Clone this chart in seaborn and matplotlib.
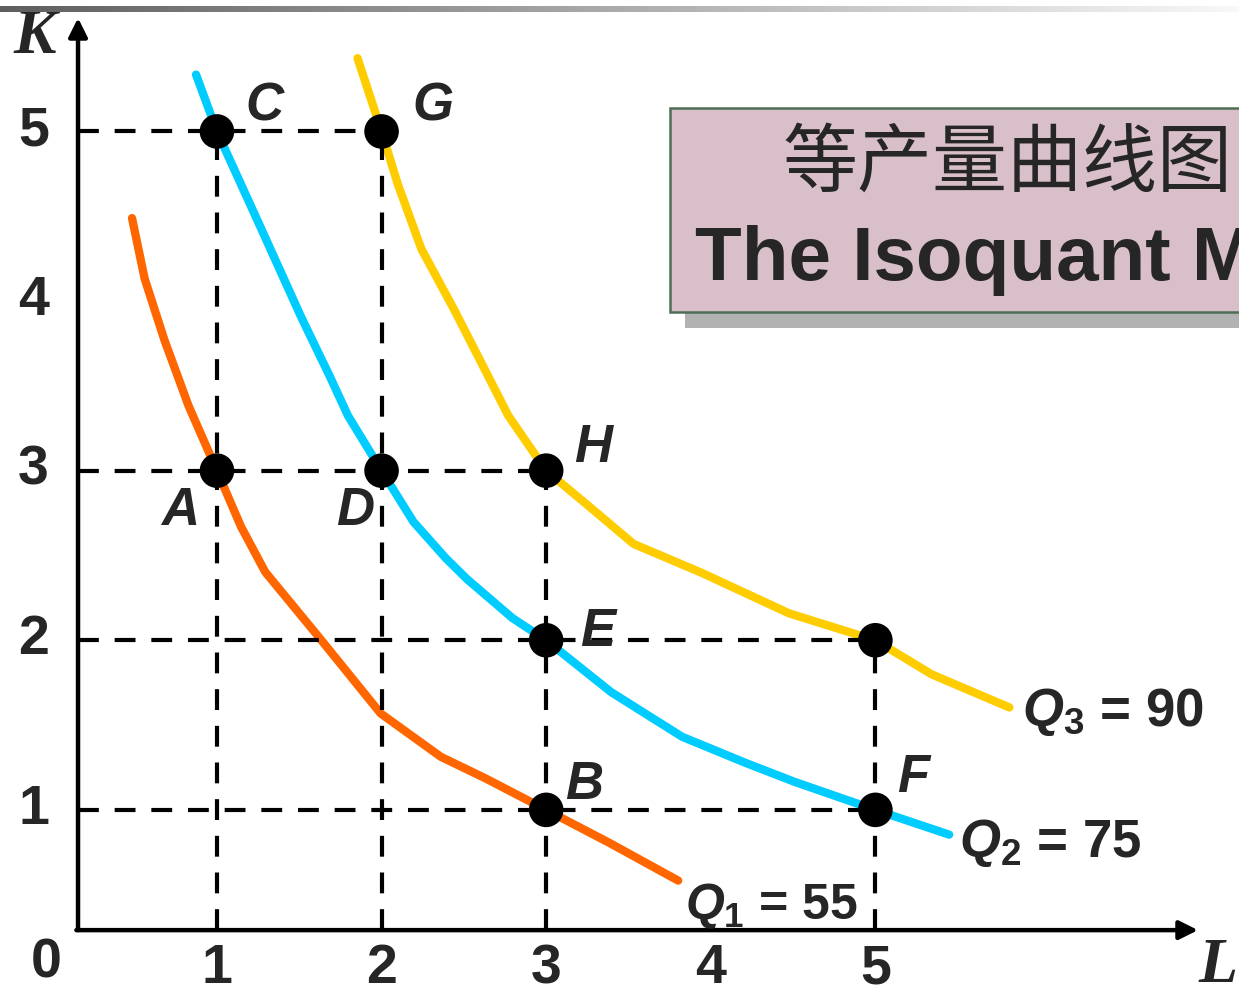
import numpy as np
import pandas as pd
import matplotlib
matplotlib.use('Agg')
import matplotlib.pyplot as plt
import matplotlib.patches as mpatches
import seaborn as sns

# 等产量曲线数据 (L, K)
q1_L = [0.484, 0.561, 0.682, 0.828, 1.0, 1.146, 1.293, 1.611, 1.994, 2.360, 2.627, 3.0, 3.383, 3.802]
q1_K = [4.489, 4.131, 3.767, 3.381, 3.0, 2.670, 2.403, 2.028, 1.569, 1.313, 1.188, 1.0, 0.806, 0.583]

q2_L = [0.873, 1.0, 1.293, 1.510, 1.688, 1.796, 2.0, 2.193, 2.391, 2.522, 2.795, 3.0, 3.395, 3.826, 4.209, 4.504, 5.0, 5.448]
q2_K = [5.335, 5.0, 4.375, 3.909, 3.551, 3.324, 3.0, 2.699, 2.483, 2.358, 2.131, 2.0, 1.694, 1.431, 1.278, 1.167, 1.0, 0.854]

q3_L = [1.854, 2.0, 2.099, 2.242, 2.441, 2.615, 2.770, 3.0, 3.254, 3.531, 3.944, 4.475, 5.0, 5.342, 5.596, 5.814]
q3_K = [5.432, 5.0, 4.688, 4.307, 3.949, 3.619, 3.324, 3.0, 2.795, 2.568, 2.398, 2.159, 2.0, 1.799, 1.694, 1.604]

q_labels = [r'$Q_{\mathit{1}}$ = 55', r'$Q_{\mathit{2}}$ = 75', r'$Q_{\mathit{3}}$ = 90']
q_colors = ['#FF6600', '#00CCFF', '#FFCC00']

# 标记点
pt_names = ['A', 'B', 'C', 'D', 'E', 'F', 'G', 'H', '']
pt_L = [1, 3, 1, 2, 3, 5, 2, 3, 5]
pt_K = [3, 1, 5, 3, 2, 1, 5, 3, 2]

# 虚线
h_levels = [5, 3, 2, 1]
h_ends = [2, 3, 5, 5]
v_levels = [1, 2, 3, 5]
v_tops = [5, 5, 3, 2]

x_ticks = [1, 2, 3, 4, 5]
y_ticks = [1, 2, 3, 4, 5]

title_cn = '等产量曲线图'
title_en = 'The Isoquant M'

sns.set_theme(style='white')
plt.rcParams['font.family'] = ['Liberation Sans', 'DejaVu Sans']
plt.rcParams['mathtext.fontset'] = 'custom'
plt.rcParams['mathtext.it'] = 'Liberation Sans:italic:bold'
plt.rcParams['mathtext.rm'] = 'Liberation Sans:bold'
plt.rcParams['mathtext.bf'] = 'Liberation Sans:bold'

fig = plt.figure(figsize=(12.39, 10), dpi=100)
fig.patch.set_facecolor('white')
ax = fig.add_axes([0, 0, 1, 1])
ax.set_xlim(-0.318, 7.209)
ax.set_ylim(-0.121, 5.775)
ax.axis('off')

L0, K0 = 0.156, 0.291  # 坐标轴原点位置

# 曲线
curves = pd.concat([
    pd.DataFrame({'L': q1_L, 'K': q1_K, 'Q': 'Q1'}),
    pd.DataFrame({'L': q2_L, 'K': q2_K, 'Q': 'Q2'}),
    pd.DataFrame({'L': q3_L, 'K': q3_K, 'Q': 'Q3'}),
])
sns.lineplot(data=curves, x='L', y='K', hue='Q', palette=q_colors, estimator=None,
             linewidth=6, solid_capstyle='round', solid_joinstyle='round',
             legend=False, ax=ax, zorder=2)

# 虚线
dash = (0, (5, 3.8))
ax.hlines(h_levels, L0, h_ends, colors='black', linewidth=3, linestyles=dash, zorder=3)
ax.vlines(v_levels, K0, v_tops, colors='black', linewidth=3, linestyles=dash, zorder=3)

# 坐标轴
arrow = dict(arrowstyle='-|>', lw=3.2, color='black', mutation_scale=28, shrinkA=0, shrinkB=0)
ax.annotate('', xy=(L0, 5.669), xytext=(L0, K0), arrowprops=arrow, zorder=4)
ax.annotate('', xy=(6.96, K0), xytext=(L0 - 0.01, K0), arrowprops=arrow, zorder=4)

# 点
pts = pd.DataFrame({'L': pt_L, 'K': pt_K, 'name': pt_names})
sns.scatterplot(data=pts, x='L', y='K', color='black', s=620, edgecolor='none', ax=ax, zorder=5)

offsets = {'A': (-26.6, -28.8), 'B': (27.4, 18), 'C': (34.5, 18), 'D': (-18.7, -28.8),
           'E': (37.4, 5.8), 'F': (27.4, 23), 'G': (36.7, 18), 'H': (34, 16)}
for name, l, k in zip(pt_names, pt_L, pt_K):
    if not name:
        continue
    ax.annotate(name, (l, k), xytext=offsets[name], textcoords='offset points',
                ha='center', va='center', fontsize=38, fontweight='bold', fontstyle='italic', zorder=6)

# Q 标签
q_ends = [(q1_L[-1], q1_K[-1]), (q2_L[-1], q2_K[-1]), (q3_L[-1], q3_K[-1])]
q_offs = [(5, -28), (7.2, -16), (9.4, -13)]
q_sizes = [36, 38, 38]
for lab, (l, k), off, fs in zip(q_labels, q_ends, q_offs, q_sizes):
    ax.annotate(lab, (l, k), xytext=off, textcoords='offset points', ha='left', va='baseline',
                fontsize=fs, fontweight='bold', zorder=6)

# 刻度标签
for t in x_ticks:
    ax.text(t, 0.031, str(t), transform=ax.get_xaxis_transform(), ha='center', va='center',
            fontsize=40, fontweight='bold')
ax.text(0.037, 0.036, '0', transform=ax.transAxes, ha='center', va='center', fontsize=40, fontweight='bold')
for t in y_ticks:
    ax.text(0.027, t, str(t), transform=ax.get_yaxis_transform(), ha='center', va='center',
            fontsize=40, fontweight='bold')

ax.text(0.028, 0.962, 'K', transform=ax.transAxes, ha='center', va='center', fontsize=46,
        fontweight='bold', fontstyle='italic', family=['Liberation Serif'])
ax.text(0.983, 0.033, 'L', transform=ax.transAxes, ha='center', va='center', fontsize=46,
        fontweight='bold', fontstyle='italic', family=['Liberation Serif'])

# 标题框
shadow = mpatches.Rectangle((0.553, 0.672), 0.47, 0.204, transform=ax.transAxes,
                            facecolor='#B2B2B2', edgecolor='none', zorder=7, clip_on=False)
box = mpatches.Rectangle((0.5408, 0.688), 0.47, 0.204, transform=ax.transAxes,
                         facecolor='#D8BFC9', edgecolor='#4E6E55', linewidth=1.8, zorder=8, clip_on=False)
ax.add_patch(shadow)
ax.add_patch(box)
ax.text(0.9945, 0.836, title_cn, transform=ax.transAxes, ha='right', va='center', fontsize=54,
        family=['Noto Sans CJK SC', 'DejaVu Sans'], zorder=9)
ax.text(0.561, 0.72, title_en, transform=ax.transAxes, ha='left', va='baseline', fontsize=55,
        fontweight='bold', zorder=9)

# 顶部渐变条
bar_ax = fig.add_axes([0, 0.988, 1, 0.006])
bar_ax.imshow(np.linspace(0.37, 0.97, 256)[None, :], cmap='gray', vmin=0, vmax=1, aspect='auto')
bar_ax.axis('off')

fig.savefig('out.png', dpi=100)
